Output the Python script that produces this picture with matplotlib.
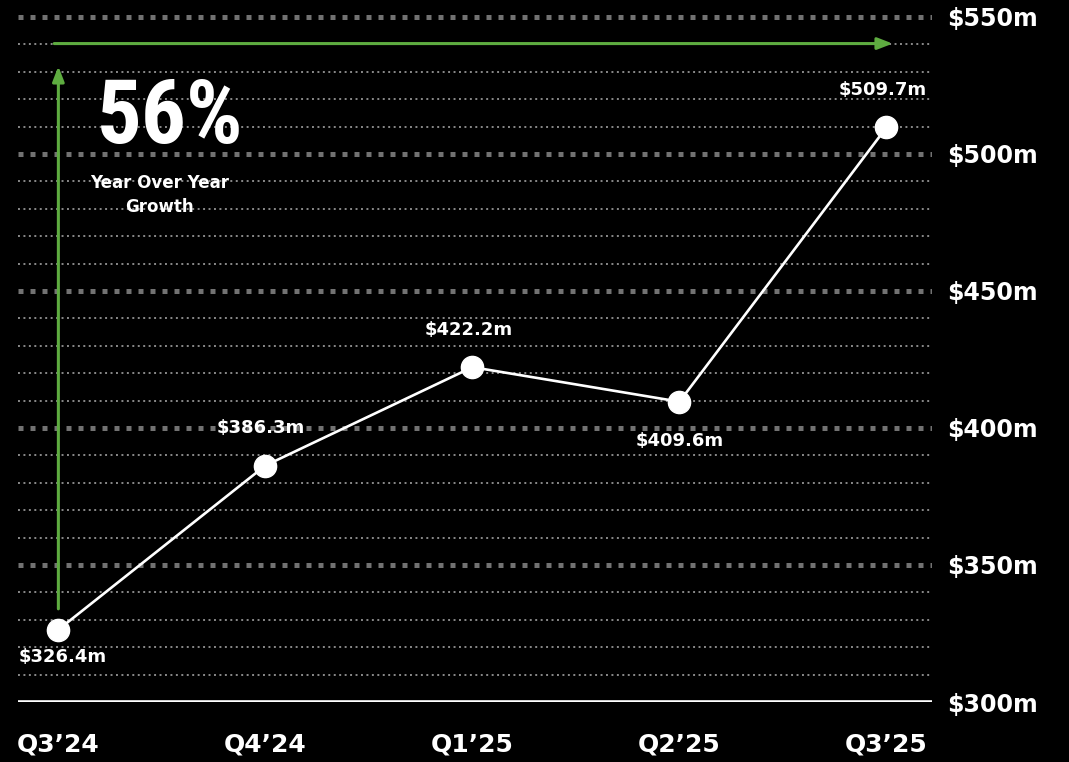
import matplotlib
matplotlib.use('Agg')
import matplotlib.pyplot as plt
import numpy as np

# data
quarters = ['Q3\u201924', 'Q4\u201924', 'Q1\u201925', 'Q2\u201925', 'Q3\u201925']
revenue = [326.4, 386.3, 422.2, 409.6, 509.7]
label_above = [False, True, True, False, True]
yoy_growth = '56%'
y_ticks = [300, 350, 400, 450, 500, 550]

plt.rcParams['font.family'] = ['DejaVu Sans']

fig = plt.figure(figsize=(10.69, 7.62), dpi=100, facecolor='black')
ax = fig.add_axes([18 / 1069, 60 / 762, (932 - 18) / 1069, 702 / 762])
ax.set_facecolor('black')
x = np.arange(len(quarters))
ax.set_xlim(-0.195, 4.22)
ax.set_ylim(300, 556.2)

# gridlines: thin dots every 10m, heavy dots every 50m, solid baseline
for v in range(310, 551, 10):
    if v % 50 == 0:
        ax.axhline(v, color='#727272', lw=3.6, dashes=(1, 1.4), zorder=1)
    else:
        ax.axhline(v, color='#8a8a8a', lw=1.4, dashes=(1, 1.8), zorder=1)
ax.axhline(300, color='white', lw=2.6, zorder=2)

# growth arrows
green = '#5eac40'
ax.annotate('', xy=(x[0], 532), xytext=(x[0], 334),
            arrowprops=dict(arrowstyle='-|>,head_length=0.9,head_width=0.35',
                            color=green, lw=2.2, shrinkA=0, shrinkB=0))
ax.annotate('', xy=(x[-1] + 0.03, 540.3), xytext=(x[0] - 0.02, 540.3),
            arrowprops=dict(arrowstyle='-|>,head_length=0.9,head_width=0.35',
                            color=green, lw=2.2, shrinkA=0, shrinkB=0))

# revenue line
ax.plot(x, revenue, color='white', lw=1.9, marker='o', markersize=16,
        markerfacecolor='white', markeredgecolor='white', zorder=5)

for xi, v, above in zip(x, revenue, label_above):
    if above:
        dx, dy = -3, 27
    elif xi == 0:
        dx, dy = 3, -20
    else:
        dx, dy = 0, -28
    ax.annotate('${:.1f}m'.format(v), (xi, v), xytext=(dx, dy),
                textcoords='offset points', ha='center', va='center',
                color='white', fontsize=13, fontweight='bold')

# headline text
ax.text(0.54, 513, yoy_growth, color='white', fontsize=64, fontweight='bold',
        fontstretch='condensed', family=['Roboto Condensed', 'DejaVu Sans'],
        ha='center', va='center')
ax.text(0.49, 485, 'Year Over Year\nGrowth', color='white', fontsize=12,
        fontweight='bold', ha='center', va='center', linespacing=1.45)

# axes
ax.set_xticks(x)
ax.set_xticklabels(quarters, color='white', fontsize=18, fontweight='bold')
ax.tick_params(axis='x', length=0, pad=22)
ax.yaxis.tick_right()
ax.set_yticks(y_ticks)
ax.set_yticklabels(['${}m'.format(t) for t in y_ticks], color='white',
                   fontsize=17, fontweight='bold')
ax.tick_params(axis='y', length=0, pad=11)
for s in ax.spines.values():
    s.set_visible(False)

fig.savefig('out.png', facecolor='black')
